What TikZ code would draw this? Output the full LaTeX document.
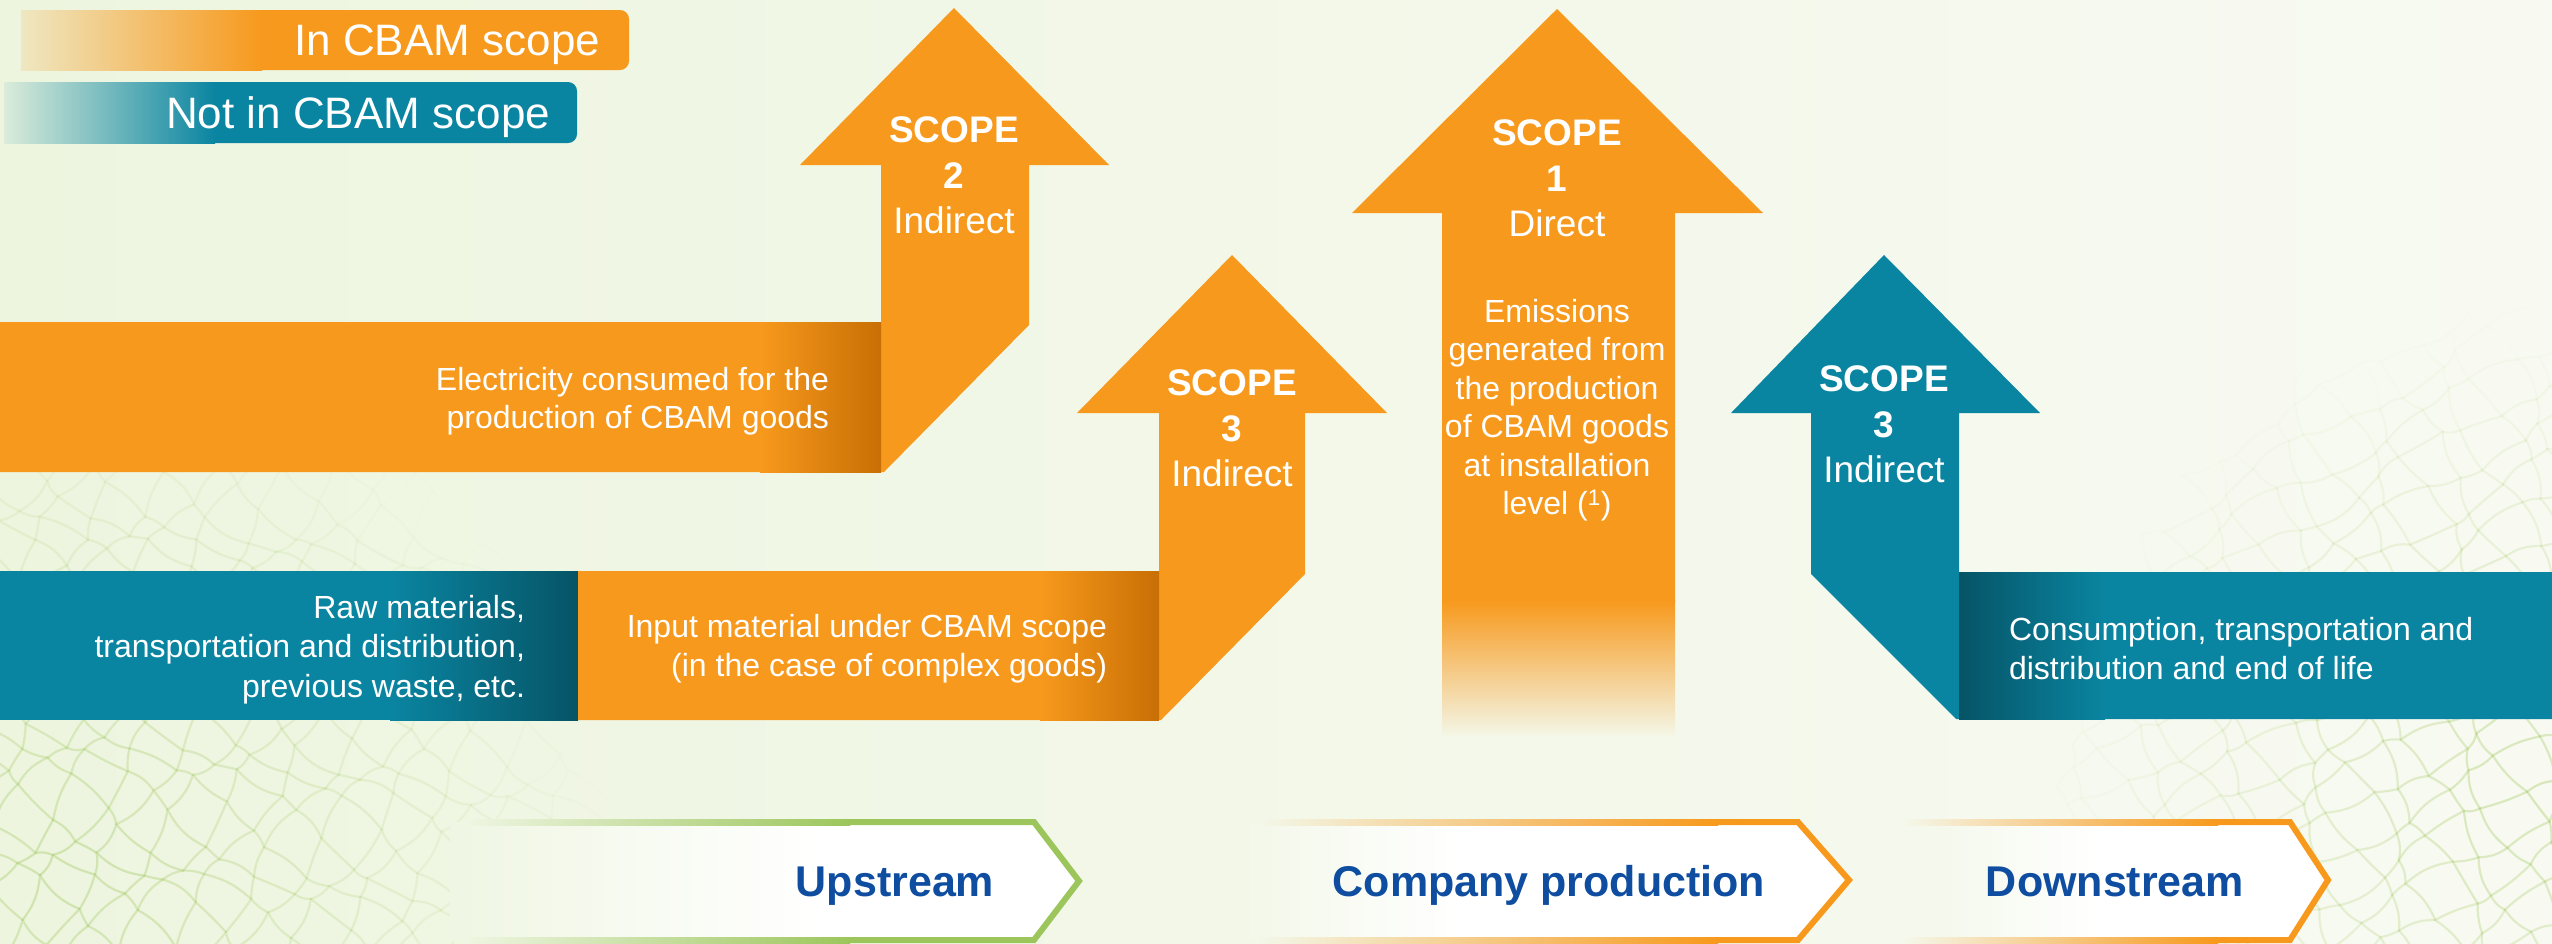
\documentclass[tikz,border=0pt]{standalone}
\usepackage{fontspec}
\setmainfont{Liberation Sans}
\definecolor{corange}{HTML}{F7991C}
\definecolor{darkorange}{HTML}{C86F05}
\definecolor{cteal}{HTML}{0A85A1}
\definecolor{darkteal}{HTML}{065466}
\definecolor{stgreen}{HTML}{9CC65C}
\definecolor{stblue}{HTML}{0E4DA0}
\definecolor{bgL}{HTML}{EDF5DF}
\definecolor{bgR}{HTML}{F8FAF2}
\definecolor{veinC}{HTML}{A9CC6A}
% #1,#2 centre; #3 cells; #4 cell size; #5 angle; #6 radius; #7 max opacity
\newcommand\veinnet[7]{%
 \foreach \vi in {0,...,#3}{%
  \foreach \vj in {0,...,#3}{%
    \pgfmathsetmacro\vU{\vi*#4+0.3*#4*sin(\vi*137+\vj*71)-#3*#4/2}%
    \pgfmathsetmacro\vV{\vj*#4+0.3*#4*cos(\vi*53+\vj*97)-#3*#4/2}%
    \pgfmathsetmacro\vAx{#1+\vU*cos(#5)-\vV*sin(#5)}%
    \pgfmathsetmacro\vAy{#2+\vU*sin(#5)+\vV*cos(#5)}%
    \pgfmathsetmacro\vOp{max(0,#7*(1-veclen((\vAx-#1)/100,(\vAy-#2)/100)*100/#6))}%
    \ifdim\vOp pt<0.01pt\else
    \pgfmathsetmacro\vU{(\vi+1)*#4+0.3*#4*sin((\vi+1)*137+\vj*71)-#3*#4/2}%
    \pgfmathsetmacro\vV{\vj*#4+0.3*#4*cos((\vi+1)*53+\vj*97)-#3*#4/2}%
    \pgfmathsetmacro\vBx{#1+\vU*cos(#5)-\vV*sin(#5)}%
    \pgfmathsetmacro\vBy{#2+\vU*sin(#5)+\vV*cos(#5)}%
    \pgfmathsetmacro\vU{\vi*#4+0.3*#4*sin(\vi*137+(\vj+1)*71)-#3*#4/2}%
    \pgfmathsetmacro\vV{(\vj+1)*#4+0.3*#4*cos(\vi*53+(\vj+1)*97)-#3*#4/2}%
    \pgfmathsetmacro\vCx{#1+\vU*cos(#5)-\vV*sin(#5)}%
    \pgfmathsetmacro\vCy{#2+\vU*sin(#5)+\vV*cos(#5)}%
    \pgfmathsetmacro\vBa{18*sin(\vi*91+\vj*43)}%
    \pgfmathsetmacro\vBb{18*cos(\vi*67+\vj*29)}%
    \draw[veinline, opacity=\vOp] (\vAx,\vAy) to[bend left=\vBa] (\vBx,\vBy)
       (\vAx,\vAy) to[bend left=\vBb] (\vCx,\vCy);
    \fi
  }}}
\tikzset{
  veinline/.style={draw=veinC, line width=2.2pt, line cap=round, line join=round},
  lbl/.style={text=white, inner sep=0pt, outer sep=0pt},
  scopeT/.style={lbl, align=center, font=\fontsize{37}{45.5}\selectfont},
  descT/.style={lbl, font=\fontsize{32}{38.5}\selectfont},
  legT/.style={lbl, font=\fontsize{44}{50}\selectfont},
  stageT/.style={inner sep=0pt, text=stblue, font=\bfseries\fontsize{43}{50}\selectfont},
}
\begin{document}
\begin{tikzpicture}[x=1pt,y=-1pt]
\useasboundingbox (0,0) rectangle (2552,943);
% background
\fill[left color=bgL, right color=bgR] (0,0) rectangle (2552,943);
% leaf veins
\veinnet{60}{860}{30}{34}{35}{540}{0.42}
\veinnet{2520}{790}{28}{34}{-30}{480}{0.42}

% legend
\fill[corange, rounded corners=9pt] (21,10) rectangle (629,70);
\fill[left color=corange!15!bgL, right color=corange] (21,10) rectangle (262,70);
\node[legT, anchor=base east] (inscope) at (600,55) {In CBAM scope};
\fill[cteal, rounded corners=9pt] (4,82) rectangle (577,143);
\fill[left color=cteal!8!bgL, right color=cteal] (4,82) rectangle (215,143);
\node[legT, anchor=base east] (notscope) at (550,128) {Not in CBAM scope};

% scope 2 arrow with electricity bar
\fill[corange] (0,322) -- (881,322) -- (881,165) -- (800,165) -- (954,8) -- (1109,165)
  -- (1029,165) -- (1029,325) -- (884,472) -- (0,472) -- cycle;
\fill[left color=corange, right color=darkorange] (760,322) rectangle (881,472);
\node[scopeT, anchor=north] (s2) at (954,117) {\textbf{SCOPE}\\\textbf{2}\\Indirect};
\node[descT, align=right, anchor=north east] (elec) at (829,367)
  {Electricity consumed for the\\production of CBAM goods};

% raw materials bar
\fill[cteal] (0,571) rectangle (578,720);
\fill[left color=cteal, right color=darkteal] (390,571) rectangle (578,720);
\node[descT, align=right, anchor=north east, font=\fontsize{32}{39.5}\selectfont] (raw) at (525,595)
  {Raw materials,\\transportation and distribution,\\previous waste, etc.};

% scope 3 (upstream) arrow with input bar
\fill[corange] (578,571) -- (1159,571) -- (1159,413) -- (1077,413) -- (1232,255) -- (1387,413)
  -- (1305,413) -- (1305,574) -- (1161,720) -- (578,720) -- cycle;
\fill[left color=corange, right color=darkorange] (1040,571) rectangle (1159,720);
\node[scopeT, anchor=north] (s3a) at (1232,370) {\textbf{SCOPE}\\\textbf{3}\\Indirect};
\node[descT, align=right, anchor=north east, font=\fontsize{32}{39}\selectfont] (input) at (1107,614)
  {Input material under CBAM scope\\(in the case of complex goods)};

% scope 1 arrow
\fill[corange] (1442,602) -- (1442,213) -- (1352,213) -- (1557,9) -- (1763,213) -- (1675,213)
  -- (1675,602) -- cycle;
\fill[top color=corange, bottom color=bgR!60!bgL] (1442,600) rectangle (1675,738);
\node[scopeT, anchor=north] (s1) at (1557,120) {\textbf{SCOPE}\\\textbf{1}\\Direct};
\node[descT, align=center, anchor=north] (emis) at (1557,299)
  {Emissions\\generated from\\the production\\of CBAM goods\\at installation\\level (\textsuperscript{1})};

% scope 3 (downstream) arrow with consumption bar
\fill[cteal] (2552,572) -- (1959,572) -- (1959,413) -- (2040,413) -- (1884,255) -- (1731,413)
  -- (1811,413) -- (1811,574) -- (1956,719) -- (2552,719) -- cycle;
\fill[left color=darkteal, right color=cteal] (1959,572) rectangle (2105,719);
\node[scopeT, anchor=north] (s3b) at (1884,366) {\textbf{SCOPE}\\\textbf{3}\\Indirect};
\node[descT, align=left, anchor=north west, font=\fontsize{32}{39}\selectfont] (cons) at (2009,617)
  {Consumption, transportation and\\distribution and end of life};

% stage chevrons
% upstream
\fill[left color=bgL!80!bgR, right color=white] (450,822) rectangle (820,940);
\fill[white] (819,822) -- (1034,822) -- (1079,881) -- (1034,940) -- (819,940) -- cycle;
\fill[left color=bgL!80!bgR, right color=stgreen] (464,819) rectangle (850,825);
\fill[left color=bgL!80!bgR, right color=stgreen] (464,937) rectangle (850,943);
\draw[stgreen, line width=6pt] (849,822) -- (1034,822) -- (1079,881) -- (1034,940) -- (849,940);
\node[stageT, anchor=base] (up) at (895,896) {Upstream};
% company production
\fill[left color=bgL!45!bgR, right color=white] (1250,822) rectangle (1460,940);
\fill[white] (1459,822) -- (1798,822) -- (1849,880) -- (1798,940) -- (1459,940) -- cycle;
\fill[left color=bgL!45!bgR, right color=corange] (1258,819) rectangle (1718,825);
\fill[left color=bgL!45!bgR, right color=corange] (1258,937) rectangle (1718,943);
\draw[corange, line width=6pt] (1717,822) -- (1798,822) -- (1849,880) -- (1798,940) -- (1717,940);
\node[stageT, anchor=base] (comp) at (1549,896) {Company production};
% downstream
\fill[left color=bgL!25!bgR, right color=white] (1950,822) rectangle (2100,940);
\fill[white] (2099,822) -- (2290,822) -- (2328,880) -- (2290,940) -- (2099,940) -- cycle;
\fill[left color=bgL!25!bgR, right color=corange] (1900,819) rectangle (2218,825);
\fill[left color=bgL!25!bgR, right color=corange] (1900,937) rectangle (2218,943);
\draw[corange, line width=6pt] (2217,822) -- (2290,822) -- (2328,880) -- (2290,940) -- (2217,940);
\node[stageT, anchor=base] (down) at (2115,896) {Downstream};
\end{tikzpicture}
\end{document}
